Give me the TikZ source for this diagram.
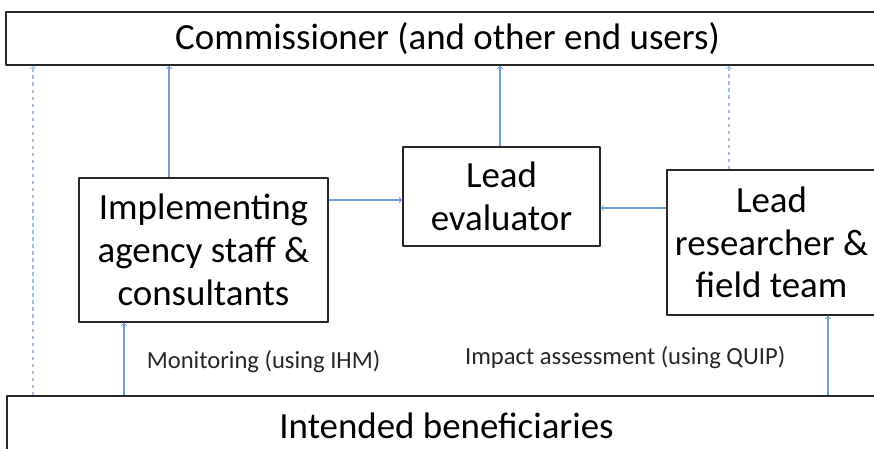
\documentclass[tikz,border=0pt]{standalone}
\usepackage{fontspec}
\setmainfont{Carlito}
\usetikzlibrary{shadows}
\definecolor{linkblue}{RGB}{112,158,212}
\definecolor{weakblue}{RGB}{160,192,230}
\begin{document}
\begin{tikzpicture}[x=0.03cm,y=-0.03cm,line join=round,>=to,thick]
			\tikzset{box/.style={draw=black!85,line width=1.2pt,fill=white,align=center,inner sep=0pt,
				font=\fontsize{31.5}{36.5}\selectfont,
				drop shadow={shadow xshift=1pt,shadow yshift=-1pt,fill=black!40}},
				link/.style={->,draw=linkblue,line width=0.9pt},
				weak/.style={link,dashed,draw=weakblue},
				note/.style={font=\fontsize{21}{24}\selectfont,text=black!85}}
			\useasboundingbox (0,0) rectangle (874,448);
			\clip (0,0) rectangle (874,448);
			% boxes
			\node[box,minimum width=26.49cm,minimum height=1.59cm] (comm) at (447.5,38.5) {Commissioner (and other end users)};
			\node[box,minimum width=7.47cm,minimum height=4.32cm] (impl) at (203.5,250) {Implementing\\agency staff \&\\consultants};
			\node[box,minimum width=5.91cm,minimum height=2.97cm] (eval) at (501.5,196.5) {Lead\\evaluator};
			\node[box,minimum width=6.27cm,minimum height=4.35cm] (res) at (771.5,242.5) {Lead\\researcher \&\\field team};
			\node[box,minimum width=26.37cm,minimum height=1.8cm] (ben) at (446.5,426) {Intended beneficiaries};
			% links up to the commissioner
			\draw[weak] (ben.north -| 33,0)--(comm.south -| 33,0);
			\draw[link] (impl.north -| 169,0)--(comm.south -| 169,0);
			\draw[link] (eval.north -| 500,0)--(comm.south -| 500,0);
			\draw[weak] (res.north -| 729,0)--(comm.south -| 729,0);
			% links to the evaluator
			\draw[link] (impl.east |- 0,200)--(eval.west |- 0,200);
			\draw[link] (res.west |- 0,208)--(eval.east |- 0,208);
			% links from the beneficiaries
			\draw[link] (ben.north -| 124,0)--node[note,right=0.55cm,yshift=-2pt] {Monitoring (using IHM)} (impl.south -| 124,0);
			\draw[link] (ben.north -| 828,0)--node[note,left=1.15cm,yshift=-2pt] {Impact assessment (using QUIP)} (res.south -| 828,0);
		\end{tikzpicture}
\end{document}
